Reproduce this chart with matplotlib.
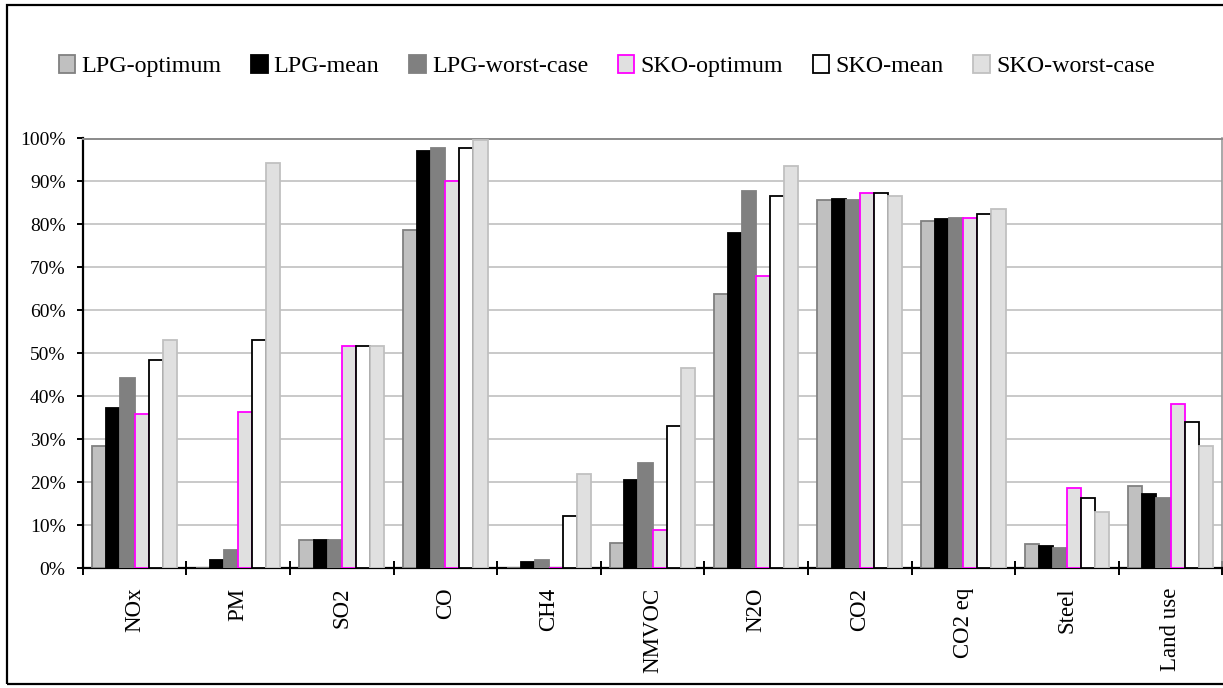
import numpy as np
import matplotlib
matplotlib.use("Agg")
import matplotlib.pyplot as plt
from matplotlib.patches import Rectangle
from matplotlib.ticker import FixedLocator, FuncFormatter

categories = ["NOx", "PM", "SO2", "CO", "CH4", "NMVOC", "N2O", "CO2", "CO2 eq", "Steel", "Land use"]
series_names = ["LPG-optimum", "LPG-mean", "LPG-worst-case", "SKO-optimum", "SKO-mean", "SKO-worst-case"]

lpg_optimum = [28.5, 0.0, 6.5, 78.8, 0.0, 6.0, 63.9, 85.8, 80.7, 5.7, 19.2]
lpg_mean = [37.4, 2.0, 6.7, 97.0, 1.5, 20.6, 77.9, 85.9, 81.3, 5.3, 17.3]
lpg_worst = [44.3, 4.3, 6.5, 97.8, 1.9, 24.4, 87.7, 85.8, 81.6, 4.8, 16.3]
sko_optimum = [35.9, 36.3, 51.7, 90.0, 0.0, 8.8, 68.1, 87.3, 81.6, 18.6, 38.2]
sko_mean = [48.5, 53.2, 51.7, 97.8, 12.2, 33.2, 86.7, 87.3, 82.5, 16.3, 34.0]
sko_worst = [53.2, 94.2, 51.7, 99.6, 22.0, 46.7, 93.7, 86.7, 83.5, 13.0, 28.5]

series = [lpg_optimum, lpg_mean, lpg_worst, sko_optimum, sko_mean, sko_worst]
faces = ["#C0C0C0", "#000000", "#808080", "#E0E0E0", "#FFFFFF", "#E0E0E0"]
edges = ["#808080", "#000000", "#808080", "#FF00FF", "#000000", "#C0C0C0"]

W, H = 1223, 688
fig = plt.figure(figsize=(W / 100, H / 100), dpi=100)
plt.rcParams["font.family"] = ["Liberation Serif", "DejaVu Serif"]

left, right = 82.7, 1222.3
bottom, top = 568.3, 138.5
ax = fig.add_axes([left / W, (H - bottom) / H, (right - left) / W, (bottom - top) / H])

x = np.arange(len(categories))
bw = 0.136
for i, (vals, fc, ec) in enumerate(zip(series, faces, edges)):
    ax.bar(x + (i - 2.5) * bw, vals, width=bw, color=fc, edgecolor=ec,
           linewidth=1.3, label=series_names[i], zorder=3)

ax.set_xlim(-0.5, len(categories) - 0.5)
ax.set_ylim(0, 100)
ax.yaxis.set_major_locator(FixedLocator(np.arange(0, 101, 10)))
ax.yaxis.set_major_formatter(FuncFormatter(lambda v, p: f"{v:.0f}%"))
ax.set_axisbelow(True)
ax.grid(axis="y", color="#C0C0C0", linewidth=1.2, zorder=0)

ax.set_xticks(x)
ax.set_xticklabels(categories, rotation=90, fontsize=16.5)
ax.set_xticks(np.arange(-0.5, len(categories), 1.0), minor=True)
ax.tick_params(axis="x", which="major", length=0, pad=14)
ax.tick_params(axis="x", which="minor", direction="inout", length=9.5, width=1.4, color="black")
ax.tick_params(axis="y", which="major", direction="out", length=4.3, width=1.4, pad=8, labelsize=14)

for s in ["left", "bottom"]:
    ax.spines[s].set_color("black")
    ax.spines[s].set_linewidth(1.6)
ax.spines["top"].set_color("#8a8a8a")
ax.spines["top"].set_linewidth(1.4)
ax.spines["right"].set_color("#9a9a9a")
ax.spines["right"].set_linewidth(1.2)

fig.legend(loc="center left", bbox_to_anchor=(58.5 / W, 1 - 66 / H), ncol=6,
           frameon=False, fontsize=17.3, borderpad=0, borderaxespad=0,
           handlelength=0.7, handleheight=0.8, handletextpad=0.25, columnspacing=1.23)

fig.patches.append(Rectangle((6.7 / W, 4 / H), 1.05, 679 / H, transform=fig.transFigure,
                             fill=False, edgecolor="black", linewidth=1.6))

fig.savefig("out.png", dpi=100)
